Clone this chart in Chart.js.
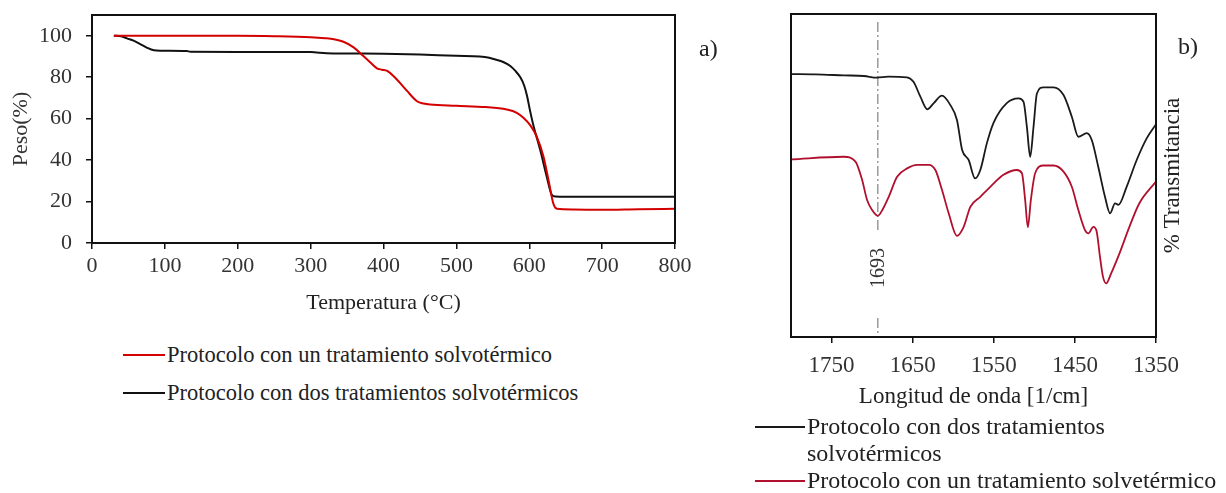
<!DOCTYPE html>
<html>
<head>
<meta charset="utf-8">
<script src="https://cdn.jsdelivr.net/npm/chart.js@4.4.1/dist/chart.umd.min.js"></script>
<style>
  body { margin: 0; background: #fff; width: 1226px; height: 493px; position: relative; overflow: hidden;
         font-family: "Liberation Serif", "Times New Roman", serif; color: #222; }
  canvas { position: absolute; top: 0; }
  .tag { position: absolute; font-size: 24px; line-height: 24px; }
  .legend { position: absolute; }
  .item { display: flex; align-items: flex-start; }
  .swatch { flex: none; height: 2px; }
</style>
</head>
<body>
<canvas id="tga" width="740" height="320" style="left:0"></canvas>
<canvas id="ftir" width="486" height="415" style="left:740px"></canvas>
<div class="tag" style="left:699px;top:36px">a)</div>
<div class="tag" style="left:1178px;top:34px">b)</div>
<div class="legend" id="legTga" style="left:123px;top:342px;font-size:22.5px"></div>
<div class="legend" id="legFtir" style="left:755px;top:413px;font-size:24px"></div>

<script>
// --- TGA (a) ---
const tgaXTicks = [0, 100, 200, 300, 400, 500, 600, 700, 800];
const tgaYTicks = [0, 20, 40, 60, 80, 100];

// un tratamiento solvotérmico (rojo)
const tgaRedTemp   = [30, 100, 200, 250, 300, 320, 332, 345, 359, 372, 382, 391, 398, 405, 418, 432, 446, 455, 464, 500, 540, 569, 583, 592, 602, 610, 619.5, 626.4, 633, 638, 660, 700, 750, 800];
const tgaRedWeight = [100, 100, 100, 99.8, 99.3, 98.8, 98.3, 97.1, 94.4, 90.3, 87.1, 84.3, 83.6, 83, 79, 73.5, 68.4, 67.3, 66.8, 66.2, 65.6, 64.4, 62.8, 60.4, 56.5, 51.5, 41.7, 30.4, 19.1, 16.5, 16.2, 16.0, 16.3, 16.5];

// dos tratamientos solvotérmicos (negro)
const tgaBlackTemp   = [30, 40, 48, 57, 66, 75, 85, 95, 130, 135, 200, 300, 322, 400, 450, 500, 532, 545, 555, 565, 574, 581, 588, 593, 597, 601, 606, 615, 624, 631, 636, 650, 800];
const tgaBlackWeight = [100, 99.8, 98.7, 97.6, 96, 94.3, 93, 92.8, 92.6, 92.3, 92.2, 92.1, 91.6, 91.3, 90.9, 90.3, 90.0, 89.4, 88.4, 87.2, 85.4, 83.0, 79.8, 76, 70.9, 64, 56.3, 45, 32, 23.2, 22.4, 22.3, 22.3];

// --- FTIR (b) ---
const ftirXTicks = [1750, 1650, 1550, 1450, 1350];
const markerWave = 1693;
const markerLabelY = 21.4;

const ftirBlackWave  = [1800, 1770, 1735, 1710, 1694, 1680, 1657, 1649, 1640.5, 1632, 1624, 1614, 1603.5, 1595.4, 1589, 1581, 1573, 1566.6, 1558.4, 1550.3, 1534, 1519.5, 1513.3, 1509.2, 1505.1, 1501, 1496.8, 1488.7, 1476.4, 1464, 1453.8, 1445.7, 1435.4, 1429.2, 1421.2, 1412.9, 1406.6, 1400.5, 1396.4, 1386.2, 1373.8, 1361.5, 1350];
const ftirBlackTrans = [81.4, 81.3, 81.0, 80.8, 80.3, 80.6, 80.4, 79.0, 74.4, 70.5, 72.4, 74.7, 71.8, 67.2, 57.9, 54.8, 49.1, 51.7, 60.1, 66.3, 72.4, 73.9, 72.8, 65.1, 55.8, 65.1, 75.4, 77.3, 77.3, 74.9, 68.2, 62.0, 63.1, 61.0, 52.7, 43.4, 38.3, 41.4, 40.9, 46.5, 54.8, 61.5, 65.9];

const ftirRedWave  = [1800, 1735, 1720.5, 1712.3, 1706.2, 1700, 1693, 1686.4, 1679.5, 1669.2, 1656.8, 1644.5, 1630.2, 1622, 1613.8, 1605.6, 1595.4, 1587.1, 1578.9, 1566.6, 1554.3, 1538, 1521.5, 1515.3, 1511.3, 1508, 1504.3, 1499, 1488.7, 1476.4, 1464, 1453.8, 1445.7, 1437.5, 1433.4, 1427.2, 1423.1, 1419.1, 1415.4, 1411.4, 1405.3, 1395, 1382.8, 1370.5, 1350];
const ftirRedTrans = [55.0, 55.8, 54.3, 48.6, 42.4, 39.3, 37.5, 39.8, 43.4, 49.6, 52.2, 53.3, 53.3, 51.7, 45.5, 38.3, 31.3, 34.1, 40.3, 43.4, 46.5, 50.2, 51.7, 50.7, 42.4, 34.0, 42.4, 50.7, 53.1, 53.1, 51.2, 46.5, 39.3, 33.1, 32.1, 34.1, 32.6, 24.9, 18.7, 16.6, 19.7, 25.9, 34.1, 41.4, 48.1];

const toPoints = (xs, ys) => xs.map((x, i) => ({ x: x, y: ys[i] }));
const serif = '"Liberation Serif", "Times New Roman", serif';

// caja completa alrededor del area del grafico
const frame = {
  id: 'frame',
  afterDatasetsDraw(chart) {
    const { ctx, chartArea: a } = chart;
    ctx.save();
    ctx.strokeStyle = '#111';
    ctx.lineWidth = 2;
    ctx.strokeRect(a.left, a.top, a.right - a.left, a.bottom - a.top);
    ctx.restore();
  }
};

// linea punto-raya en 1693 con su etiqueta
const marker = {
  id: 'marker',
  beforeDatasetsDraw(chart) {
    const { ctx, chartArea: a, scales: { x, y } } = chart;
    const px = x.getPixelForValue(markerWave);
    const ly = y.getPixelForValue(markerLabelY);
    ctx.save();
    ctx.font = '20px ' + serif;
    const w = ctx.measureText(String(markerWave)).width;
    ctx.strokeStyle = '#9a9a9a';
    ctx.lineWidth = 1.5;
    ctx.setLineDash([10, 3, 2, 3]);
    ctx.beginPath();
    ctx.moveTo(px, a.top + 8);
    ctx.lineTo(px, ly - w / 2 - 18);
    ctx.moveTo(px, ly + w / 2 + 30);
    ctx.lineTo(px, a.bottom);
    ctx.stroke();
    ctx.setLineDash([]);
    ctx.translate(px + 1, ly);
    ctx.rotate(-Math.PI / 2);
    ctx.fillStyle = '#333';
    ctx.textAlign = 'center';
    ctx.textBaseline = 'middle';
    ctx.fillText(String(markerWave), 0, 0);
    ctx.restore();
  }
};

// titulo del eje y a la derecha, leyendo de abajo hacia arriba
const sideTitle = {
  id: 'sideTitle',
  afterDraw(chart) {
    const { ctx, chartArea: a } = chart;
    ctx.save();
    ctx.font = '23px ' + serif;
    ctx.fillStyle = '#222';
    ctx.translate(a.right + 17, (a.top + a.bottom) / 2);
    ctx.rotate(-Math.PI / 2);
    ctx.textAlign = 'center';
    ctx.textBaseline = 'middle';
    ctx.fillText('% Transmitancia', 0, 0);
    ctx.restore();
  }
};

const tickGrid = { display: true, drawOnChartArea: false, drawTicks: true, tickLength: 6, color: '#111', lineWidth: 1.5 };

const tgaChart = new Chart(document.getElementById('tga'), {
  type: 'line',
  data: {
    datasets: [
      { label: 'Protocolo con un tratamiento solvotérmico', data: toPoints(tgaRedTemp, tgaRedWeight), borderColor: '#d40000', borderWidth: 2 },
      { label: 'Protocolo con dos tratamientos solvotérmicos', data: toPoints(tgaBlackTemp, tgaBlackWeight), borderColor: '#111111', borderWidth: 2 }
    ]
  },
  options: {
    responsive: false,
    animation: false,
    elements: { point: { radius: 0 }, line: { cubicInterpolationMode: 'monotone' } },
    layout: { padding: { top: 15, right: 65, left: 0, bottom: 0 } },
    plugins: { legend: { display: false }, tooltip: { enabled: false } },
    scales: {
      x: {
        type: 'linear', min: 0, max: 800,
        afterBuildTicks: s => { s.ticks = tgaXTicks.map(v => ({ value: v })); },
        afterFit: s => { s.height = 77; s.paddingLeft = 0; s.paddingRight = 0; },
        grid: tickGrid,
        border: { display: false },
        ticks: { padding: 4, color: '#333', font: { family: serif, size: 22 }, callback: v => String(v) },
        title: { display: true, text: 'Temperatura (°C)', color: '#222', padding: { top: 2, bottom: 4 }, font: { family: serif, size: 22 } }
      },
      y: {
        min: 0, max: 110,
        afterBuildTicks: s => { s.ticks = tgaYTicks.map(v => ({ value: v })); },
        afterFit: s => { s.width = 92; s.paddingTop = 0; s.paddingBottom = 0; },
        grid: tickGrid,
        border: { display: false },
        ticks: { padding: 14, color: '#333', font: { family: serif, size: 22 }, callback: v => String(v) },
        title: { display: true, text: 'Peso(%)', color: '#333', padding: { top: 8, bottom: 0 }, font: { family: serif, size: 22 } }
      }
    }
  },
  plugins: [frame]
});

const ftirChart = new Chart(document.getElementById('ftir'), {
  type: 'line',
  data: {
    datasets: [
      { label: 'Protocolo con dos tratamientos solvotérmicos', data: toPoints(ftirBlackWave, ftirBlackTrans), borderColor: '#1a1a1a', borderWidth: 1.8 },
      { label: 'Protocolo con un tratamiento solvetérmico', data: toPoints(ftirRedWave, ftirRedTrans), borderColor: '#b0102e', borderWidth: 1.8 }
    ]
  },
  options: {
    responsive: false,
    animation: false,
    elements: { point: { radius: 0 }, line: { cubicInterpolationMode: 'monotone' } },
    layout: { padding: { top: 14, right: 70, left: 51, bottom: 0 } },
    plugins: { legend: { display: false }, tooltip: { enabled: false } },
    scales: {
      x: {
        type: 'linear', min: 1350, max: 1800, reverse: true,
        afterBuildTicks: s => { s.ticks = ftirXTicks.map(v => ({ value: v })); },
        afterFit: s => { s.height = 78; s.paddingLeft = 0; s.paddingRight = 0; },
        grid: tickGrid,
        border: { display: false },
        ticks: { padding: 9, color: '#333', font: { family: serif, size: 23 }, callback: v => String(v) },
        title: { display: true, text: 'Longitud de onda [1/cm]', color: '#222', padding: { top: 2, bottom: 4 }, font: { family: serif, size: 23 } }
      },
      y: { display: false, min: 0, max: 100 }
    }
  },
  plugins: [marker, frame, sideTitle]
});

// leyendas en HTML, construidas desde los datasets
function buildLegend(chart, el, order, swatchWidth, lineHeight, textWidth, gap) {
  order.forEach(i => {
    const ds = chart.data.datasets[i];
    const item = document.createElement('div');
    item.className = 'item';
    item.style.marginBottom = gap + 'px';
    const sw = document.createElement('div');
    sw.className = 'swatch';
    sw.style.width = swatchWidth + 'px';
    sw.style.background = ds.borderColor;
    sw.style.marginTop = (lineHeight / 2 - 1) + 'px';
    const tx = document.createElement('div');
    tx.textContent = ds.label;
    tx.style.lineHeight = lineHeight + 'px';
    tx.style.width = textWidth + 'px';
    tx.style.marginLeft = '2px';
    item.appendChild(sw);
    item.appendChild(tx);
    el.appendChild(item);
  });
}
buildLegend(tgaChart, document.getElementById('legTga'), [0, 1], 42, 25, 520, 13);
buildLegend(ftirChart, document.getElementById('legFtir'), [0, 1], 50, 27, 416, 0);
</script>
</body>
</html>
